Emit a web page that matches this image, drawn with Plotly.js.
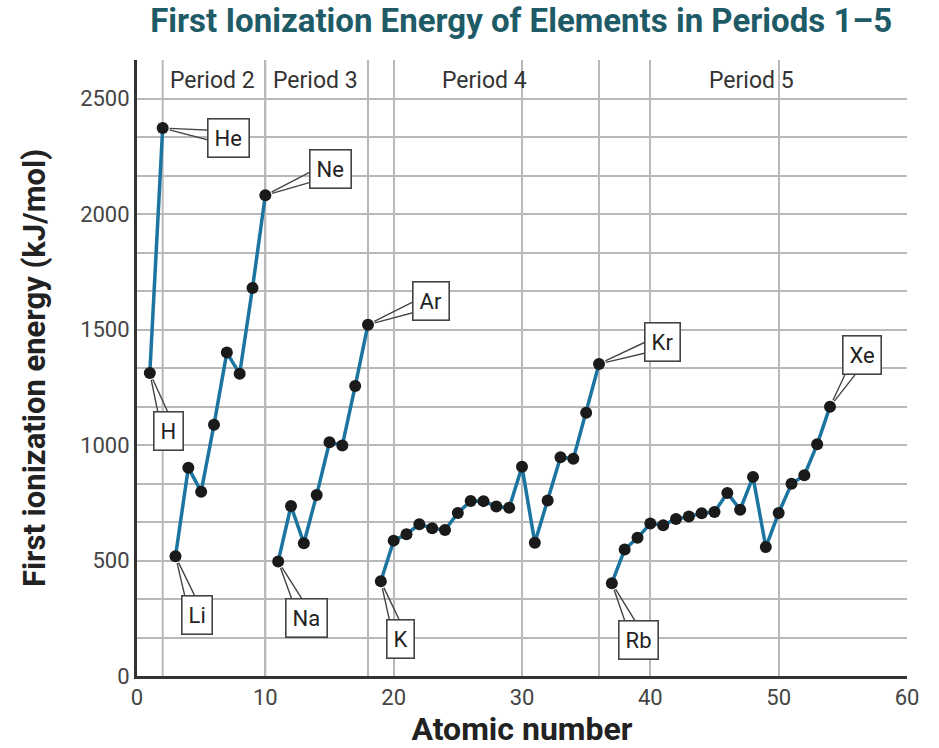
<!DOCTYPE html>
<html>
<head>
<meta charset="utf-8">
<script src="https://cdn.plot.ly/plotly-3.0.1.min.js"></script>
<style>html,body{margin:0;padding:0;background:#fff;}#chart{width:939px;height:748px;}</style>
</head>
<body>
<div id="chart"></div>
<script>
// ---- data ----
var atomicNumbers = [1,2,3,4,5,6,7,8,9,10,11,12,13,14,15,16,17,18,19,20,21,22,23,24,25,26,27,28,29,30,31,32,33,34,35,36,37,38,39,40,41,42,43,44,45,46,47,48,49,50,51,52,53,54];
var symbols = ['H','He','Li','Be','B','C','N','O','F','Ne','Na','Mg','Al','Si','P','S','Cl','Ar','K','Ca','Sc','Ti','V','Cr','Mn','Fe','Co','Ni','Cu','Zn','Ga','Ge','As','Se','Br','Kr','Rb','Sr','Y','Zr','Nb','Mo','Tc','Ru','Rh','Pd','Ag','Cd','In','Sn','Sb','Te','I','Xe'];
var ionizationEnergy = [1312,2372,518,902,798,1088,1400,1308,1680,2081,496,736,575,784,1012,998,1255,1521,410,586,614,657,640,632,706,758,757,734,728,906,577,760,947,940,1140,1351,402,548,598,660,653,680,690,705,710,792,720,862,558,706,832,869,1003,1166];
var periodStartZ = [1,3,11,19,37];
var periodEndZ   = [2,10,18,36,54];
var periodLabels = ['Period 2','Period 3','Period 4','Period 5'];
var periodLabelX = [5.9,13.9,27.1,47.9];
var periodBoundaries = [2,10,18,36];
var calloutSymbols = ['H','He','Li','Ne','Na','Ar','K','Kr','Rb','Xe'];

// ---- styling / placement (not data) ----
var calloutOffsets = {H:[19,58],He:[66,10],Li:[21,59],Ne:[65,-26],Na:[28,57],Ar:[63,-24],K:[20,58],Kr:[63,-22],Rb:[27,57],Xe:[32,-52]};
var lineColor = '#1b75a0';
var gridColor = '#b9b9b9';
var fontFam = 'Roboto, "Open Sans", Arial, sans-serif';

var traces = [];
for (var p = 0; p < periodStartZ.length; p++) {
  var xs = [], ys = [], tx = [];
  for (var i = 0; i < atomicNumbers.length; i++) {
    if (atomicNumbers[i] >= periodStartZ[p] && atomicNumbers[i] <= periodEndZ[p]) {
      xs.push(atomicNumbers[i]); ys.push(ionizationEnergy[i]); tx.push(symbols[i]);
    }
  }
  traces.push({
    type: 'scatter', mode: 'lines+markers', x: xs, y: ys, text: tx,
    line: {color: lineColor, width: 3.5},
    marker: {color: '#1a1a1a', size: 12},
    showlegend: false, hoverinfo: 'text+y'
  });
}

var shapes = periodBoundaries.map(function (b) {
  return {type: 'line', xref: 'x', yref: 'paper', x0: b, x1: b, y0: 0, y1: 1,
          line: {color: gridColor, width: 2}, layer: 'below'};
});

var annotations = [];
// speech-bubble tails (two lines per callout), drawn first so boxes cover their ends
calloutSymbols.forEach(function (s) {
  var idx = symbols.indexOf(s);
  var off = calloutOffsets[s];
  var len = Math.sqrt(off[0]*off[0] + off[1]*off[1]);
  var px = -off[1] / len, py = off[0] / len, d = 7;
  [-1, 1].forEach(function (sg) {
    annotations.push({
      x: atomicNumbers[idx], y: ionizationEnergy[idx], xref: 'x', yref: 'y',
      text: ' ', showarrow: true, arrowhead: 0, arrowwidth: 1.4, arrowcolor: '#444',
      ax: off[0] + sg * d * px, ay: off[1] + sg * d * py, standoff: 7,
      font: {size: 2}
    });
  });
});
// callout boxes
calloutSymbols.forEach(function (s) {
  var idx = symbols.indexOf(s);
  var off = calloutOffsets[s];
  annotations.push({
    x: atomicNumbers[idx], y: ionizationEnergy[idx], xref: 'x', yref: 'y',
    text: s, showarrow: false, xshift: off[0], yshift: -off[1],
    bgcolor: '#ffffff', bordercolor: '#444', borderwidth: 1.6, borderpad: 6,
    font: {family: fontFam, size: 22, color: '#222'}
  });
});
periodLabels.forEach(function (t, k) {
  annotations.push({
    x: periodLabelX[k], y: 2580, xref: 'x', yref: 'y', text: t, showarrow: false,
    font: {family: fontFam, size: 23, color: '#333'}
  });
});

var layout = {
  width: 939, height: 748,
  margin: {l: 137, r: 32, t: 60, b: 72},
  paper_bgcolor: '#ffffff', plot_bgcolor: '#ffffff',
  title: {text: '<b>First Ionization Energy of Elements in Periods 1–5</b>',
          font: {family: fontFam, size: 33, color: '#1e5b66'},
          x: 0.555, xanchor: 'center', y: 0.972, yanchor: 'middle'},
  xaxis: {
    range: [0, 60], tickvals: [0,10,20,30,40,50,60],
    showgrid: true, gridcolor: gridColor, gridwidth: 2,
    showline: true, linecolor: '#333', linewidth: 3,
    ticks: '', zeroline: false,
    tickfont: {family: fontFam, size: 22, color: '#444'},
    title: {text: '<b>Atomic number</b>', font: {family: fontFam, size: 32, color: '#222'}, standoff: 0}
  },
  yaxis: {
    range: [0, 2666.67], dtick: 500, tick0: 0,
    showgrid: true, gridcolor: gridColor, gridwidth: 2,
    minor: {dtick: 500/3, tick0: 0, showgrid: true, gridcolor: gridColor, gridwidth: 2},
    showline: true, linecolor: '#333', linewidth: 3,
    ticks: '', zeroline: false,
    tickfont: {family: fontFam, size: 22, color: '#444'},
    title: {text: '<b>First ionization energy (kJ/mol)</b>', font: {family: fontFam, size: 31, color: '#222'}, standoff: 26}
  },
  shapes: shapes,
  annotations: annotations
};

Plotly.newPlot('chart', traces, layout, {displayModeBar: false, staticPlot: true});
</script>
</body>
</html>
